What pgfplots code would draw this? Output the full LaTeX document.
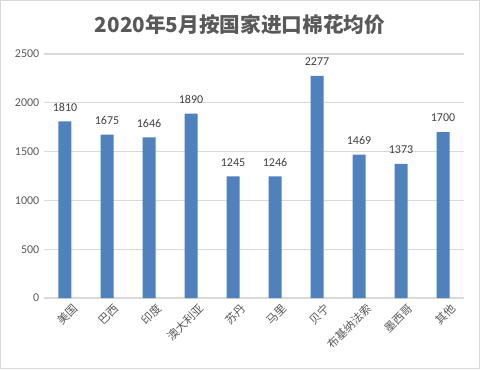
\documentclass[border=0pt]{standalone}
\usepackage{pgfplots}
\pgfplotsset{compat=1.18}
\usepackage{fontspec}
\setmainfont{Carlito}
\newfontfamily\cjk{Noto Sans CJK SC}
\definecolor{barblue}{HTML}{4F81BD}
\definecolor{gridgray}{HTML}{D9D9D9}
\definecolor{txtgray}{HTML}{595959}
\definecolor{lblgray}{HTML}{404040}
\begin{document}
\begin{tikzpicture}
\useasboundingbox (0,0) rectangle (360pt,276.75pt);
\draw[color=gridgray, line width=0.8pt] (0.5pt,0.5pt) rectangle (359.5pt,276.25pt);
\node[text=txtgray, font=\cjk\bfseries\fontsize{15.5}{18}\selectfont] at (180pt,258pt) {2020年5月按国家进口棉花均价};
\begin{axis}[
  at={(33pt,53.25pt)}, anchor=south west,
  scale only axis, width=315pt, height=183pt,
  ymin=0, ymax=2500, ytick={0,500,...,2500},
  xmin=-0.5, xmax=9.5,
  xtick={0,...,9},
  xticklabels={美国,巴西,印度,澳大利亚,苏丹,马里,贝宁,布基纳法索,墨西哥,其他},
  xticklabel style={rotate=45, anchor=north east, font=\cjk\fontsize{8.5}{9}\selectfont, text=txtgray, inner sep=0pt, xshift=1pt, yshift=-6pt},
  yticklabel style={font=\fontsize{9}{10}\selectfont, text=txtgray},
  /pgf/number format/assume math mode=true,
  /pgf/number format/1000 sep={},
  axis line style={draw=none},
  axis x line*=bottom,
  x axis line style={draw=gridgray, line width=0.8pt},
  ymajorgrids, grid style={gridgray, line width=0.8pt},
  major tick length=0pt,
  ybar, bar width=9.75pt,
  nodes near coords,
  nodes near coords style={font=\fontsize{9}{10}\selectfont, text=lblgray, yshift=4pt},
  every node near coord/.append style={/pgf/number format/1000 sep={}},
]
\addplot[fill=barblue, draw=none] coordinates {(0,1810) (1,1675) (2,1646) (3,1890) (4,1245) (5,1246) (6,2277) (7,1469) (8,1373) (9,1700)};
\end{axis}
\end{tikzpicture}
\end{document}
